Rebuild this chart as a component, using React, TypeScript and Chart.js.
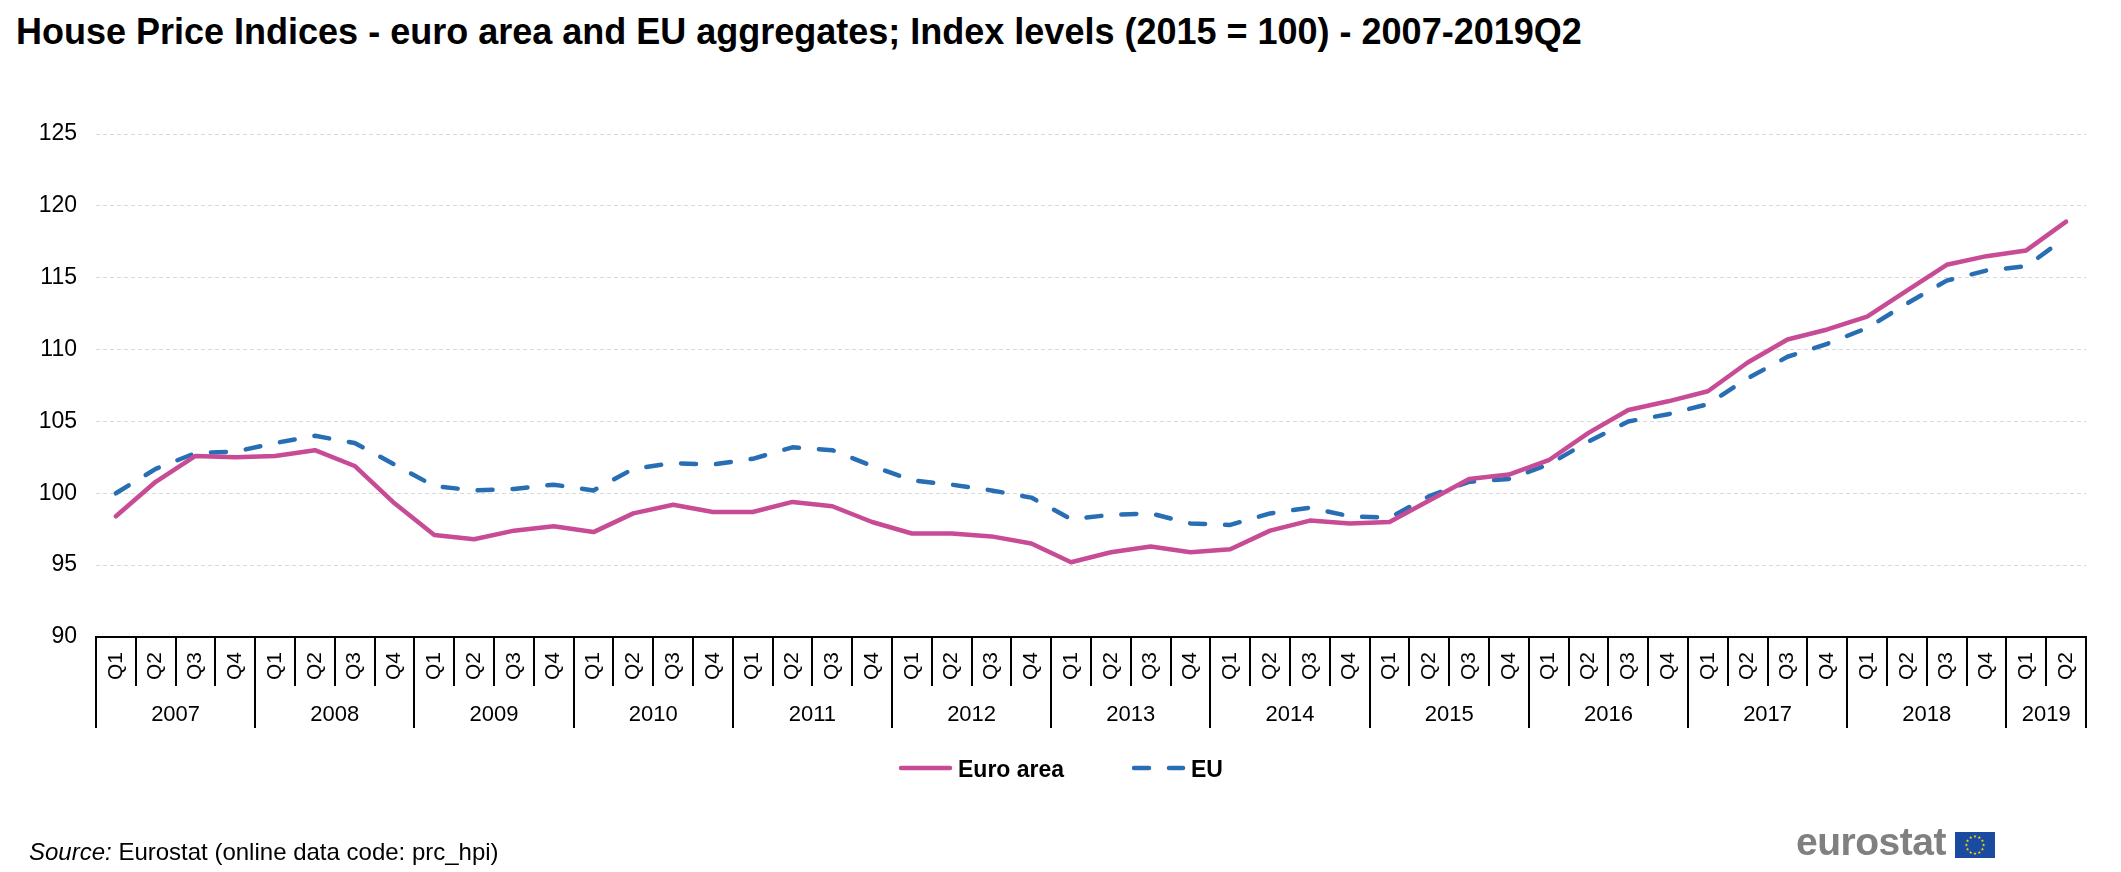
import React, { useEffect, useRef } from "react";
import { Chart, registerables } from "chart.js";

Chart.register(...registerables);

const FONT = "'Liberation Sans', Arial, Helvetica, sans-serif";

const yearLabels = ["2007", "2008", "2009", "2010", "2011", "2012", "2013", "2014", "2015", "2016", "2017", "2018", "2019"];
const quartersPerYear = [4, 4, 4, 4, 4, 4, 4, 4, 4, 4, 4, 4, 2];
const quarterNames = ["Q1", "Q2", "Q3", "Q4"];

const euroArea = [
  98.4, 100.8, 102.6, 102.5,
  102.6, 103.0, 101.9, 99.3,
  97.1, 96.8, 97.4, 97.7,
  97.3, 98.6, 99.2, 98.7,
  98.7, 99.4, 99.1, 98.0,
  97.2, 97.2, 97.0, 96.5,
  95.2, 95.9, 96.3, 95.9,
  96.1, 97.4, 98.1, 97.9,
  98.0, 99.5, 101.0, 101.3,
  102.3, 104.2, 105.8, 106.4,
  107.1, 109.1, 110.7, 111.4,
  112.3, 114.1, 115.9, 116.5,
  116.9, 118.9,
];

const eu = [
  100.0, 101.7, 102.8, 102.9,
  103.5, 104.0, 103.5, 102.0,
  100.5, 100.2, 100.3, 100.6,
  100.2, 101.7, 102.1, 102.0,
  102.4, 103.2, 103.0, 101.9,
  100.9, 100.6, 100.2, 99.7,
  98.2, 98.5, 98.6, 97.9,
  97.8, 98.6, 99.0, 98.4,
  98.3, 99.8, 100.8, 101.0,
  102.0, 103.6, 105.0, 105.5,
  106.2, 108.0, 109.5, 110.4,
  111.5, 113.2, 114.8, 115.5,
  115.8, 117.8,
];

const yMin = 90;
const yMax = 125;
const yStep = 5;

const seriesNames = ["Euro area", "EU"];
const seriesColors = ["#C84B96", "#286EB4"];

const categories: string[] = [];
yearLabels.forEach((y, i) => {
  for (let q = 0; q < quartersPerYear[i]; q++) categories.push(quarterNames[q]);
});

const tablePlugin = {
  id: "tableAxis",
  afterDraw(chart: any) {
    const { ctx, chartArea } = chart;
    const x = chart.scales.x;
    const n = categories.length;
    const half = (x.getPixelForValue(1) - x.getPixelForValue(0)) / 2;
    const top = chartArea.bottom;
    ctx.save();
    ctx.strokeStyle = "#000";
    ctx.lineWidth = 2;
    ctx.beginPath();
    ctx.moveTo(chartArea.left - 1, top);
    ctx.lineTo(chartArea.right + 1, top);
    ctx.stroke();

    ctx.fillStyle = "#000";
    ctx.font = `22px ${FONT}`;
    ctx.textAlign = "center";
    ctx.textBaseline = "alphabetic";
    let idx = 0;
    yearLabels.forEach((yr, yi) => {
      const count = quartersPerYear[yi];
      for (let q = 0; q < count; q++) {
        const bx = Math.round(x.getPixelForValue(idx + q) - half);
        ctx.beginPath();
        ctx.moveTo(bx, top);
        ctx.lineTo(bx, q === 0 ? top + 91 : top + 49);
        ctx.stroke();
      }
      const cx = (x.getPixelForValue(idx) + x.getPixelForValue(idx + count - 1)) / 2;
      ctx.fillText(yr, cx, top + 84);
      idx += count;
    });
    const endX = Math.round(x.getPixelForValue(n - 1) + half);
    ctx.beginPath();
    ctx.moveTo(endX, top);
    ctx.lineTo(endX, top + 91);
    ctx.stroke();

    // legend
    const ly = 768;
    ctx.lineCap = "round";
    ctx.lineWidth = 4.5;
    ctx.strokeStyle = seriesColors[0];
    ctx.setLineDash([]);
    ctx.beginPath();
    ctx.moveTo(901, ly);
    ctx.lineTo(950, ly);
    ctx.stroke();
    ctx.strokeStyle = seriesColors[1];
    ctx.setLineDash([15, 20]);
    ctx.beginPath();
    ctx.moveTo(1134, ly);
    ctx.lineTo(1183, ly);
    ctx.stroke();
    ctx.setLineDash([]);
    ctx.font = `bold 23px ${FONT}`;
    ctx.textAlign = "left";
    ctx.fillStyle = "#000";
    ctx.fillText(seriesNames[0], 958, ly + 8.5);
    ctx.fillText(seriesNames[1], 1191, ly + 8.5);
    ctx.restore();
  },
};

function EuFlag() {
  const stars = [];
  for (let i = 0; i < 12; i++) {
    const a = (i / 12) * Math.PI * 2;
    const cx = 20 + Math.sin(a) * 8.6;
    const cy = 13 - Math.cos(a) * 8.6;
    const pts: string[] = [];
    for (let k = 0; k < 10; k++) {
      const r = k % 2 === 0 ? 1.7 : 0.7;
      const b = (k / 10) * Math.PI * 2;
      pts.push(`${(cx + Math.sin(b) * r).toFixed(2)},${(cy - Math.cos(b) * r).toFixed(2)}`);
    }
    stars.push(<polygon key={i} points={pts.join(" ")} fill="#FFDD00" />);
  }
  return (
    <svg width="40" height="26" viewBox="0 0 40 26" style={{ position: "absolute", left: 1955, top: 832 }}>
      <rect x="0" y="0" width="40" height="26" fill="#1B4BA0" />
      {stars}
    </svg>
  );
}

export default function App() {
  const canvasRef = useRef<HTMLCanvasElement | null>(null);

  useEffect(() => {
    const canvas = canvasRef.current;
    if (!canvas) return;
    const chart = new Chart(canvas, {
      type: "line",
      data: {
        labels: categories,
        datasets: [
          {
            label: seriesNames[0],
            data: euroArea,
            borderColor: seriesColors[0],
            backgroundColor: seriesColors[0],
            borderWidth: 4.5,
            pointRadius: 0,
            pointHoverRadius: 0,
            tension: 0,
            fill: false,
            borderJoinStyle: "round",
            borderCapStyle: "round",
          },
          {
            label: seriesNames[1],
            data: eu,
            borderColor: seriesColors[1],
            backgroundColor: seriesColors[1],
            borderWidth: 4.5,
            borderDash: [15, 20],
            pointRadius: 0,
            pointHoverRadius: 0,
            tension: 0,
            fill: false,
            borderJoinStyle: "round",
            borderCapStyle: "round",
          },
        ],
      },
      options: {
        responsive: false,
        animation: false,
        devicePixelRatio: 1,
        layout: { padding: { top: 134, bottom: 100, left: 0, right: 35 } },
        plugins: {
          legend: { display: false },
          title: { display: false },
          tooltip: { enabled: false },
        },
        scales: {
          x: {
            type: "category",
            offset: true,
            grid: { display: false, drawTicks: false },
            border: { display: false },
            ticks: {
              autoSkip: false,
              minRotation: 90,
              maxRotation: 90,
              padding: 15,
              color: "#000",
              font: { family: FONT, size: 21 },
            },
            afterFit: (scale: any) => {
              scale.height = 135;
            },
          },
          y: {
            min: yMin,
            max: yMax,
            grid: { color: "#D9D9D9", lineWidth: 1, drawTicks: false },
            border: { display: false, dash: [4, 3] },
            ticks: {
              stepSize: yStep,
              padding: 19,
              color: "#000",
              font: { family: FONT, size: 23 },
            },
            afterFit: (scale: any) => {
              scale.width = 96;
            },
          },
        },
      },
      plugins: [tablePlugin],
    });
    return () => chart.destroy();
  }, []);

  return (
    <div style={{ position: "absolute", left: 0, top: 0, width: 2121, height: 872, background: "#fff", overflow: "hidden" }}>
      <div
        style={{
          position: "absolute",
          left: 16,
          top: 14,
          fontFamily: FONT,
          fontWeight: "bold",
          fontSize: 36,
          lineHeight: "36px",
          whiteSpace: "nowrap",
          color: "#000",
        }}
      >
        House Price Indices - euro area and EU aggregates; Index levels (2015 = 100) - 2007-2019Q2
      </div>
      <canvas ref={canvasRef} width={2121} height={872} style={{ position: "absolute", left: 0, top: 0 }} />
      <div
        style={{
          position: "absolute",
          left: 29,
          top: 840,
          fontFamily: FONT,
          fontSize: 24,
          lineHeight: "24px",
          whiteSpace: "nowrap",
          color: "#000",
        }}
      >
        <i>Source:</i> Eurostat (online data code: prc_hpi)
      </div>
      <div
        style={{
          position: "absolute",
          left: 1796,
          top: 822,
          fontFamily: FONT,
          fontWeight: "bold",
          fontSize: 39,
          lineHeight: "40px",
          whiteSpace: "nowrap",
          color: "#808080",
          letterSpacing: "-0.5px",
        }}
      >
        eurostat
      </div>
      <EuFlag />
    </div>
  );
}
